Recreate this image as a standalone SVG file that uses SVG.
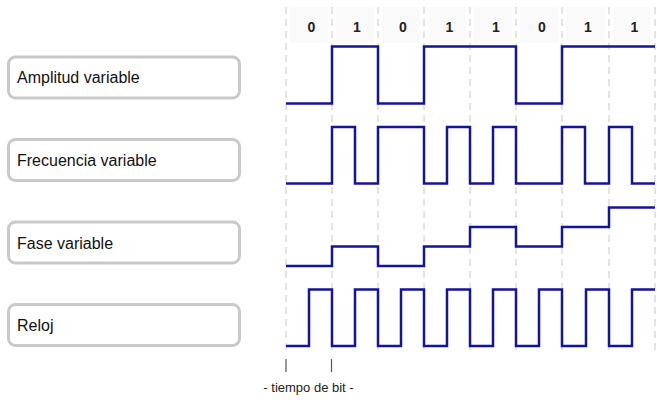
<svg xmlns="http://www.w3.org/2000/svg" width="657" height="400" viewBox="0 0 657 400">
<style>
.lbl rect{fill:#fff;stroke:#c9c9c9;stroke-width:3}
.lbl text{font-family:"Liberation Sans",Arial,sans-serif;font-size:16px;fill:#111}
.bit{font-family:"Liberation Sans",Arial,sans-serif;font-size:14px;font-weight:bold;fill:#222;text-anchor:middle}
.cell{fill:#fafafa}
.grid line{stroke:#c8c8c8;stroke-width:1;stroke-dasharray:7 5}
.sig{fill:none;stroke:#14149a;stroke-width:2.5;stroke-linejoin:miter}
.tick{stroke:#555;stroke-width:1.2}
</style>
<rect width="657" height="400" fill="#fff"/>
<g id="bits">
<rect class="cell" x="290" y="7" width="38" height="36"/>
<rect class="cell" x="336" y="7" width="38" height="36"/>
<rect class="cell" x="382" y="7" width="38" height="36"/>
<rect class="cell" x="428" y="7" width="38" height="36"/>
<rect class="cell" x="474" y="7" width="38" height="36"/>
<rect class="cell" x="520" y="7" width="38" height="36"/>
<rect class="cell" x="566" y="7" width="39" height="36"/>
<rect class="cell" x="613" y="7" width="38" height="36"/>
<text class="bit" x="311.5" y="32">0</text>
<text class="bit" x="357" y="32">1</text>
<text class="bit" x="403" y="32">0</text>
<text class="bit" x="449.5" y="32">1</text>
<text class="bit" x="496" y="32">1</text>
<text class="bit" x="542" y="32">0</text>
<text class="bit" x="588" y="32">1</text>
<text class="bit" x="634.5" y="32">1</text>
</g>
<g class="grid" id="grid">
<line x1="286" y1="7" x2="286" y2="355"/>
<line x1="332" y1="7" x2="332" y2="355"/>
<line x1="378" y1="7" x2="378" y2="355"/>
<line x1="424" y1="7" x2="424" y2="355"/>
<line x1="470" y1="7" x2="470" y2="355"/>
<line x1="516" y1="7" x2="516" y2="355"/>
<line x1="562" y1="7" x2="562" y2="355"/>
<line x1="609" y1="7" x2="609" y2="355"/>
<line x1="655" y1="7" x2="655" y2="355"/>
</g>
<g id="amplitud" class="lbl">
<rect x="8.5" y="57" width="231" height="41" rx="7"/>
<text x="17" y="83">Amplitud variable</text>
</g>
<g id="frecuencia" class="lbl">
<rect x="8.5" y="139.5" width="231" height="41" rx="7"/>
<text x="17" y="166">Frecuencia variable</text>
</g>
<g id="fase" class="lbl">
<rect x="8.5" y="222" width="231" height="41" rx="7"/>
<text x="17" y="248.5">Fase variable</text>
</g>
<g id="reloj" class="lbl">
<rect x="8.5" y="304.5" width="231" height="41" rx="7"/>
<text x="17" y="331">Reloj</text>
</g>
<g id="signals">
<path class="sig" d="M286 103.5H332V46.5H378V103.5H424V46.5H516V103.5H562V46.5H655"/>
<path class="sig" d="M286 183.5H332V127H355V183.5H378V127H424V183.5H447V127H470V183.5H493V127H516V183.5H562V127H585V183.5H609V127H632V183.5H655"/>
<path class="sig" d="M286 266H332V246.5H378V266H424V246.5H470V227H516V246.5H562V227H609V207.5H655"/>
<path class="sig" d="M286 346H309V289.5H332V346H355V289.5H378V346H401V289.5H424V346H447V289.5H470V346H493V289.5H516V346H539V289.5H562V346H586V289.5H609V346H632V289.5H655"/>
</g>
<g id="bittime">
<line class="tick" x1="286" y1="359" x2="286" y2="372"/>
<line class="tick" x1="331.5" y1="359" x2="331.5" y2="372"/>
<text x="308.5" y="392" font-family="Liberation Sans,Arial,sans-serif" font-size="13" fill="#222" text-anchor="middle">- tiempo de bit -</text>
</g>
</svg>
